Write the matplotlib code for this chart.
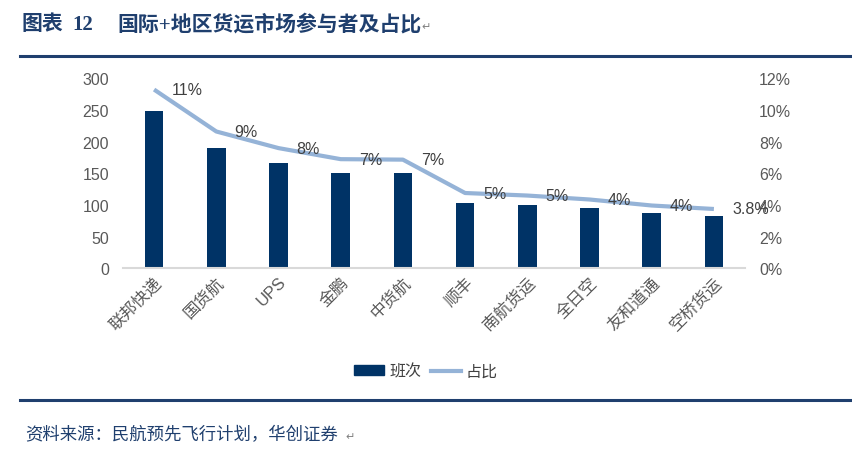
import matplotlib
matplotlib.use("Agg")
import matplotlib.pyplot as plt
from matplotlib.lines import Line2D
from matplotlib.patches import Patch

plt.rcParams['font.family'] = ['Liberation Sans', 'Noto Sans CJK SC', 'DejaVu Sans']

categories = ['联邦快递', '国货航', 'UPS', '金鹏', '中货航', '顺丰', '南航货运', '全日空', '友和道通', '空桥货运']
flights = [249, 190, 167, 151, 151, 104, 100, 95, 87, 82]
share = [11.3, 8.65, 7.6, 6.9, 6.87, 4.76, 4.6, 4.35, 3.97, 3.75]
share_labels = ['11%', '9%', '8%', '7%', '7%', '5%', '5%', '4%', '4%', '3.8%']
left_ticks = [0, 50, 100, 150, 200, 250, 300]
right_ticks = [0, 2, 4, 6, 8, 10, 12]

navy = '#003366'
light = '#95B3D7'
tick_col = '#595959'
rule_col = '#1F3F6E'

fig = plt.figure(figsize=(8.53, 4.56), dpi=100)
ax = fig.add_axes([123/853, 1-269.3/456, (745-123)/853, (269.3-79.5)/456])
x = list(range(len(categories)))
ax.bar(x, flights, width=0.3, color=navy, zorder=2)
ax.set_ylim(0, 300)
ax.set_xlim(-0.5, len(categories)-0.5)
ax.set_yticks(left_ticks)
ax.tick_params(axis='y', length=0, pad=10, labelsize=11.5, labelcolor=tick_col)
ax.tick_params(axis='x', length=0, pad=4)
ax.set_xticks(x)
ax.set_xticklabels(categories, rotation=45, ha='right', rotation_mode='anchor',
                   fontsize=12, color=tick_col)
for s in ['top', 'right', 'left']:
    ax.spines[s].set_visible(False)
ax.spines['bottom'].set_color('#D9D9D9')
ax.spines['bottom'].set_linewidth(1.5)

ax2 = ax.twinx()
ax2.plot(x, share, color=light, linewidth=3, zorder=3, solid_capstyle='butt')
ax2.set_ylim(0, 12)
ax2.set_yticks(right_ticks)
ax2.set_yticklabels([f'{t}%' for t in right_ticks])
ax2.tick_params(axis='y', length=0, pad=10, labelsize=11.5, labelcolor=tick_col)
for s in ['top', 'right', 'left', 'bottom']:
    ax2.spines[s].set_visible(False)
for xi, yi, lab in zip(x, share, share_labels):
    ax2.annotate(lab, (xi, yi), xytext=(13, 0), textcoords='offset points',
                 ha='left', va='center', fontsize=11.5, color='#404040', zorder=4)

handles = [Patch(facecolor=navy, edgecolor=navy, label='班次'),
           Line2D([0], [0], color=light, linewidth=3, label='占比')]
fig.legend(handles=handles, loc='center', bbox_to_anchor=(426/853, 1-372/456), ncol=2,
           frameon=False, fontsize=11.5, handlelength=1.9, handleheight=0.5,
           columnspacing=0.6, handletextpad=0.3, labelcolor='#404040')

# title and rules
fam = ['Liberation Serif', 'Noto Sans CJK SC', 'DejaVu Sans']
fig.text(22/853, 1-25/456, '图表', fontsize=15, fontweight='bold', color=rule_col,
         va='center', ha='left', family=fam)
fig.text(72/853, 1-25/456, '12', fontsize=15, fontweight='bold', color=rule_col,
         va='center', ha='left', family=fam)
fig.text(117/853, 1-25/456, '国际+地区货运市场参与者及占比', fontsize=15, fontweight='bold',
         color=rule_col, va='center', ha='left', family=fam)
fig.text(421/853, 1-27/456, '↵', fontsize=8, color='#808080', va='center', ha='left',
         family=['DejaVu Sans'])
fig.add_artist(Line2D([20/853, 1], [1-57/456, 1-57/456], color=rule_col, linewidth=2.2,
                      transform=fig.transFigure))
fig.add_artist(Line2D([20/853, 1], [1-401/456, 1-401/456], color=rule_col, linewidth=2.2,
                      transform=fig.transFigure))
fig.text(25/853, 1-435/456, '资料来源：民航预先飞行计划，华创证券', fontsize=12.5,
         color=rule_col, va='center', ha='left', style='italic',
         family=['Noto Sans CJK SC', 'DejaVu Sans'])
fig.text(345/853, 1-437/456, '↵', fontsize=8, color='#808080', va='center', ha='left',
         family=['DejaVu Sans'])

fig.savefig('out.png', dpi=100)
